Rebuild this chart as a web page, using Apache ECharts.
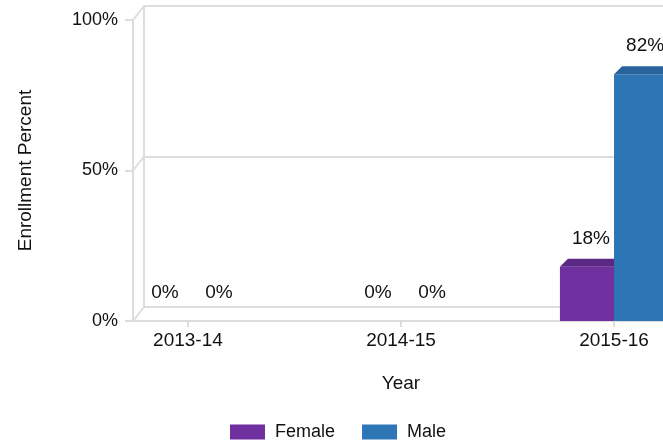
<!DOCTYPE html>
<html>
<head>
<meta charset="utf-8">
<script src="https://cdn.jsdelivr.net/npm/echarts@6/dist/echarts.min.js"></script>
<style>
  html, body { margin: 0; padding: 0; background: #fff; }
  #chart { width: 663px; height: 443px; }
</style>
</head>
<body>
<div id="chart"></div>
<script>
var years = ['2013-14', '2014-15', '2015-16'];
var female = [0, 0, 18];
var male = [0, 0, 82];
var yTicks = [0, 50, 100];

var FONT = '"Liberation Sans", Arial, sans-serif';
var GRID_LINE = '#dddddd';
var X_MIN = -0.258, X_MAX = 2.258;
var DEPTH_X = 11, DEPTH_Y = 14;   // wall depth
var BAR_DX = 8, BAR_DY = 8;       // bar depth
var BAR_W = 0.254;                // in category units

var colors = {
    Female: { front: '#7030A0', top: '#5a2782', side: '#5f2888' },
    Male: { front: '#2E75B6', top: '#28639c', side: '#27629a' }
};

function barSeries(name, values, side) {
    return {
        name: name,
        type: 'custom',
        xAxisIndex: 0,
        yAxisIndex: 0,
        itemStyle: { color: colors[name].front },
        data: values.map(function (v, i) { return [i, v]; }),
        renderItem: function (params, api) {
            var cat = api.value(0);
            var val = api.value(1);
            var unit = api.size([1, 0])[0];
            var w = BAR_W * unit;
            var base = api.coord([cat, 0]);
            var top = api.coord([cat, val]);
            var x0 = side < 0 ? base[0] - w : base[0];
            var x1 = x0 + w;
            var c = colors[name];
            var children = [];
            if (val > 0) {
                children.push({
                    type: 'rect',
                    shape: { x: x0, y: top[1], width: w, height: base[1] - top[1] },
                    style: { fill: c.front }
                });
                children.push({
                    type: 'polygon',
                    shape: { points: [[x0, top[1]], [x0 + BAR_DX, top[1] - BAR_DY], [x1 + BAR_DX, top[1] - BAR_DY], [x1, top[1]]] },
                    style: { fill: c.top }
                });
                children.push({
                    type: 'polygon',
                    shape: { points: [[x1, top[1]], [x1 + BAR_DX, top[1] - BAR_DY], [x1 + BAR_DX, base[1] - BAR_DY], [x1, base[1]]] },
                    style: { fill: c.side }
                });
            }
            children.push({
                type: 'text',
                style: {
                    text: val + '%',
                    x: (x0 + x1) / 2 + 4,
                    y: top[1] - 28,
                    align: 'center',
                    verticalAlign: 'middle',
                    font: '19px ' + FONT,
                    fill: '#111'
                }
            });
            return { type: 'group', children: children };
        }
    };
}

var option = {
    animation: false,
    backgroundColor: '#fff',
    legend: {
        left: 230,
        top: 423,
        padding: 0,
        itemWidth: 35,
        itemHeight: 15,
        itemGap: 27,
        icon: 'rect',
        textStyle: { fontFamily: FONT, fontSize: 18, color: '#111', padding: [0, 0, 0, 5] },
        data: ['Female', 'Male']
    },
    grid: [
        { left: 133, top: 20, bottom: 122, width: 536, outerBoundsMode: 'none' },
        { left: 133 + DEPTH_X, top: 20 - DEPTH_Y, bottom: 122 + DEPTH_Y, width: 536, outerBoundsMode: 'none' }
    ],
    xAxis: [
        {
            type: 'value',
            gridIndex: 0,
            min: X_MIN,
            max: X_MAX,
            name: 'Year',
            nameLocation: 'middle',
            nameGap: 53,
            nameTextStyle: { fontFamily: FONT, fontSize: 19, color: '#111' },
            axisLine: { show: true, onZero: false, lineStyle: { color: GRID_LINE, width: 2 } },
            axisTick: { show: true, length: 6, customValues: [0, 1, 2], lineStyle: { color: GRID_LINE, width: 2 } },
            axisLabel: {
                customValues: [0, 1, 2],
                margin: 10,
                fontFamily: FONT,
                fontSize: 19,
                color: '#111',
                formatter: function (v) { return years[Math.round(v)]; }
            },
            splitLine: { show: false }
        },
        {
            type: 'value',
            gridIndex: 1,
            min: X_MIN,
            max: X_MAX,
            show: false
        }
    ],
    yAxis: [
        {
            type: 'value',
            gridIndex: 0,
            min: 0,
            max: 100,
            interval: 50,
            name: 'Enrollment Percent',
            nameLocation: 'middle',
            nameGap: 98,
            nameTextStyle: { fontFamily: FONT, fontSize: 19, color: '#111' },
            axisLine: { show: true, onZero: false, lineStyle: { color: GRID_LINE, width: 2 } },
            axisTick: { show: true, length: 8, lineStyle: { color: GRID_LINE, width: 2 } },
            axisLabel: { margin: 15, fontFamily: FONT, fontSize: 18, color: '#111', formatter: '{value}%' },
            splitLine: { show: false }
        },
        {
            type: 'value',
            gridIndex: 1,
            min: 0,
            max: 100,
            interval: 50,
            axisLine: { show: true, onZero: false, lineStyle: { color: GRID_LINE, width: 2 } },
            axisTick: { show: false },
            axisLabel: { show: false },
            splitLine: { show: true, lineStyle: { color: GRID_LINE, width: 2 } }
        }
    ],
    series: [
        {
            type: 'custom',
            silent: true,
            xAxisIndex: 0,
            yAxisIndex: 0,
            z: 1,
            data: yTicks,
            renderItem: function (params, api) {
                var p = api.coord([X_MIN, api.value(0)]);
                return {
                    type: 'line',
                    shape: { x1: p[0], y1: p[1], x2: p[0] + DEPTH_X, y2: p[1] - DEPTH_Y },
                    style: { stroke: GRID_LINE, lineWidth: 2 }
                };
            }
        },
        barSeries('Female', female, -1),
        barSeries('Male', male, 1)
    ]
};

var chart = echarts.init(document.getElementById('chart'));
chart.setOption(option);
window.addEventListener('resize', function () { chart.resize(); });
</script>
</body>
</html>
